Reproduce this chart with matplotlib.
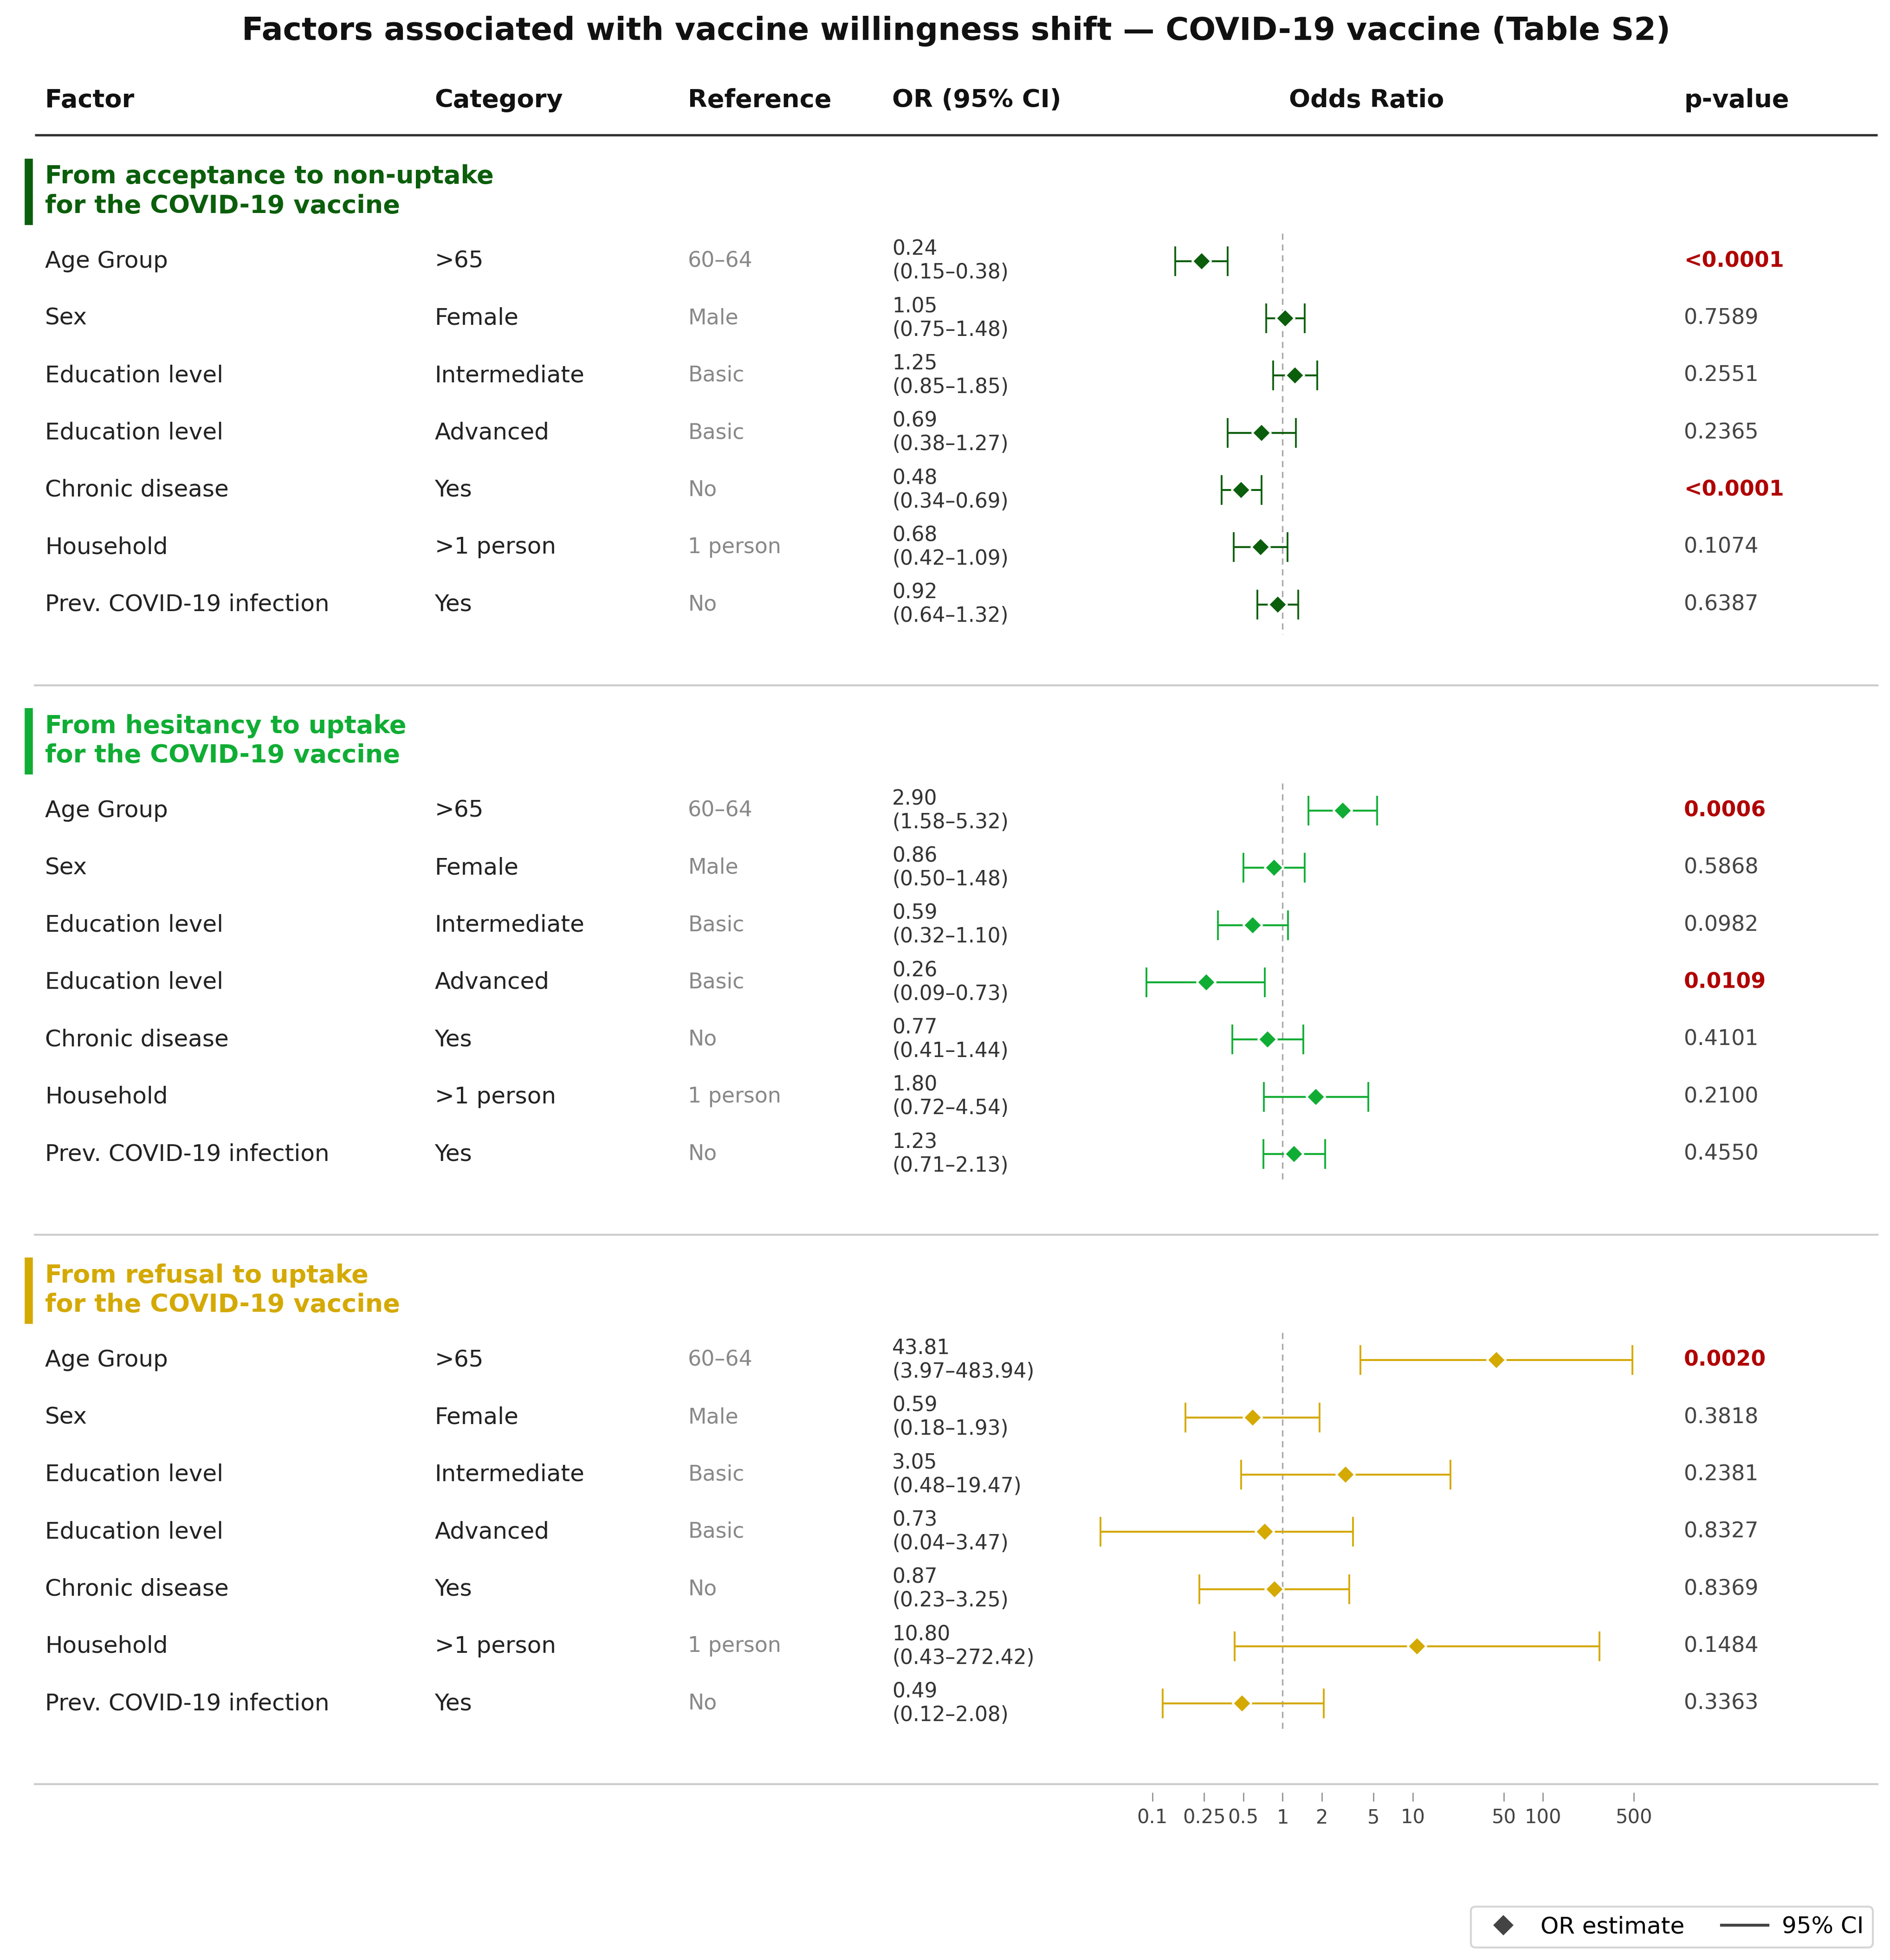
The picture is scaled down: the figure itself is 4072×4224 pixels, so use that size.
import numpy as np
import matplotlib
matplotlib.use("Agg")
import matplotlib.pyplot as plt
from matplotlib.lines import Line2D

# ---- data (Table S2) ----
factors = ["Age Group", "Sex", "Education level", "Education level",
           "Chronic disease", "Household", "Prev. COVID-19 infection"]
categories = [">65", "Female", "Intermediate", "Advanced", "Yes", ">1 person", "Yes"]
references = ["60\u201364", "Male", "Basic", "Basic", "No", "1 person", "No"]

section_titles = ["From acceptance to non-uptake\nfor the COVID-19 vaccine",
                  "From hesitancy to uptake\nfor the COVID-19 vaccine",
                  "From refusal to uptake\nfor the COVID-19 vaccine"]
section_colors = ["#0b5e0b", "#10ad34", "#d4a900"]

or_accept = [0.24, 1.05, 1.25, 0.69, 0.48, 0.68, 0.92]
lo_accept = [0.15, 0.75, 0.85, 0.38, 0.34, 0.42, 0.64]
hi_accept = [0.38, 1.48, 1.85, 1.27, 0.69, 1.09, 1.32]
p_accept = ["<0.0001", "0.7589", "0.2551", "0.2365", "<0.0001", "0.1074", "0.6387"]

or_hes = [2.90, 0.86, 0.59, 0.26, 0.77, 1.80, 1.23]
lo_hes = [1.58, 0.50, 0.32, 0.09, 0.41, 0.72, 0.71]
hi_hes = [5.32, 1.48, 1.10, 0.73, 1.44, 4.54, 2.13]
p_hes = ["0.0006", "0.5868", "0.0982", "0.0109", "0.4101", "0.2100", "0.4550"]

or_ref = [43.81, 0.59, 3.05, 0.73, 0.87, 10.80, 0.49]
lo_ref = [3.97, 0.18, 0.48, 0.04, 0.23, 0.43, 0.12]
hi_ref = [483.94, 1.93, 19.47, 3.47, 3.25, 272.42, 2.08]
p_ref = ["0.0020", "0.3818", "0.2381", "0.8327", "0.8369", "0.1484", "0.3363"]

sections = [(or_accept, lo_accept, hi_accept, p_accept),
            (or_hes, lo_hes, hi_hes, p_hes),
            (or_ref, lo_ref, hi_ref, p_ref)]

tick_vals = [0.1, 0.25, 0.5, 1, 2, 5, 10, 50, 100, 500]
tick_labels = ["0.1", "0.25", "0.5", "1", "2", "5", "10", "50", "100", "500"]

# ---- layout (in row units, 0 = top of figure) ----
W, H, DPI = 4072, 4224, 300
TOTAL_ROWS = 34.24
first_row = 4.56
section_step = 9.6
col_x = {"factor": 0.0238, "cat": 0.230, "ref": 0.364, "or": 0.472, "forest": 0.723, "p": 0.891}
line_l, line_r = 0.0185, 0.9934
sig_red = "#b00000"

fig = plt.figure(figsize=(W / DPI, H / DPI), dpi=DPI)
tab = fig.add_axes([0, 0, 1, 1])
tab.set_xlim(0, 1)
tab.set_ylim(TOTAL_ROWS, 0)
tab.axis("off")

# forest axes: log scale, 1 decade = 0.0689 fig width, OR=1 at x=0.6786
xlo, xhi = 10 ** -1.6, 10 ** 3.0
dec = 0.0689
fx0 = 0.6786 + np.log10(xlo) * dec
fbottom = 1 - 3863 / H
ax = fig.add_axes([fx0, fbottom, dec * (np.log10(xhi) - np.log10(xlo)), 1 - fbottom])
ax.set_xscale("log")
ax.set_xlim(xlo, xhi)
ax.set_ylim(TOTAL_ROWS * (1 - fbottom), 0)
ax.patch.set_alpha(0)
for s in ax.spines.values():
    s.set_visible(False)
ax.set_yticks([])
ax.set_xticks(tick_vals)
ax.set_xticklabels(tick_labels)
ax.minorticks_off()
ax.tick_params(axis="x", direction="out", length=4.6, width=0.6, color="#888888",
               labelcolor="#444444", labelsize=10, pad=3.5)

# title and header
tab.text(0.506, 0.54, "Factors associated with vaccine willingness shift \u2014 COVID-19 vaccine (Table S2)",
         ha="center", va="center", fontsize=16.4, fontweight="bold", color="#111111")
hdr_y = 1.75
for key, label in [("factor", "Factor"), ("cat", "Category"), ("ref", "Reference"),
                   ("or", "OR (95% CI)"), ("p", "p-value")]:
    tab.text(col_x[key], hdr_y, label, ha="left", va="center", fontsize=13,
             fontweight="bold", color="#111111")
tab.text(col_x["forest"], hdr_y, "Odds Ratio", ha="center", va="center", fontsize=13,
         fontweight="bold", color="#111111")
tab.plot([line_l, line_r], [2.36, 2.36], color="#333333", lw=1.2, solid_capstyle="butt")

for k, (ors, los, his, ps) in enumerate(sections):
    base = first_row + k * section_step
    color = section_colors[k]
    # section header with colored bar
    tab.plot([0.0152, 0.0152], [base - 1.79, base - 0.63], color=color, lw=4.2,
             solid_capstyle="butt")
    tab.text(col_x["factor"], base - 1.22, section_titles[k], ha="left", va="center",
             fontsize=13, fontweight="bold", color=color, linespacing=1.28)

    ys = base + np.arange(len(ors))
    for i, y in enumerate(ys):
        tab.text(col_x["factor"], y, factors[i], ha="left", va="center", fontsize=12, color="#222222")
        tab.text(col_x["cat"], y, categories[i], ha="left", va="center", fontsize=12, color="#222222")
        tab.text(col_x["ref"], y, references[i], ha="left", va="center", fontsize=11, color="#888888")
        tab.text(col_x["or"], y, f"{ors[i]:.2f}\n({los[i]:.2f}\u2013{his[i]:.2f})", ha="left",
                 va="center", fontsize=10.5, color="#333333", linespacing=1.22)
        pval = float(ps[i].lstrip("<"))
        if pval < 0.05:
            tab.text(col_x["p"], y, ps[i], ha="left", va="center", fontsize=11,
                     fontweight="bold", color=sig_red)
        else:
            tab.text(col_x["p"], y, ps[i], ha="left", va="center", fontsize=11, color="#444444")

    ors_a, los_a, his_a = np.array(ors), np.array(los), np.array(his)
    ax.vlines(1, base - 0.48, base + 6.52, colors="#aaaaaa", linestyles=(0, (4, 3)), lw=0.8, zorder=1)
    ax.errorbar(ors_a, ys, xerr=[ors_a - los_a, his_a - ors_a], fmt="D", color=color,
                ecolor=color, elinewidth=1.0, capsize=7.7, capthick=1.0, markersize=6.8,
                markeredgecolor="white", markeredgewidth=0.9, zorder=3)

    tab.plot([line_l, line_r], [base + 7.41, base + 7.41], color="#cccccc", lw=1.0)

handles = [Line2D([], [], marker="D", color="#444444", linestyle="none", markersize=6.5),
           Line2D([], [], color="#444444", lw=1.5)]
fig.legend(handles, ["OR estimate", "95% CI"], loc="lower right", ncol=2,
           bbox_to_anchor=(0.991, 0.0064), borderaxespad=0, fontsize=12, frameon=True,
           edgecolor="#cccccc", handlelength=2.0, handletextpad=0.6, columnspacing=1.6)

fig.savefig("out.png", dpi=DPI)
